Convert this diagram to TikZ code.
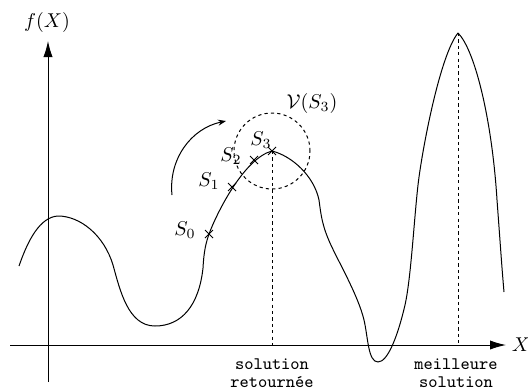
\documentclass[tikz,border=0pt]{standalone}
\usetikzlibrary{arrows.meta}
\begin{document}
\begin{tikzpicture}[x=0.5pt,y=-0.5pt,
  axis/.style={line width=0.5pt,-{Latex[length=8pt,width=4.6pt]}},
  curve/.style={line width=0.5pt,line join=round},
  guide/.style={line width=0.5pt,dash pattern=on 1.6pt off 1.6pt},
  xmark/.style={line width=0.5pt},
  lab/.style={inner sep=0pt},
  ttlab/.style={inner sep=0pt,anchor=base,font=\ttfamily\fontsize{8.8}{9}\selectfont}]
\useasboundingbox (0,0) rectangle (528,391);
% axes
\coordinate (xa0) at (10,345);
\coordinate (xa1) at (506,345);
\coordinate (ya0) at (48,382);
\coordinate (ya1) at (48,41);
\draw[axis] (xa0) -- (xa1);
\draw[axis] (ya0) -- (ya1);
\node[lab] (fx) at (47,22) {$f(X)$};
\node[lab] (xl) at (521,345) {$X$};
% points
\coordinate (s0) at (209,234);
\coordinate (s1) at (232,187);
\coordinate (s2) at (254,160);
\coordinate (s3) at (272,151);
\coordinate (best) at (458,33);
\coordinate (s3x) at (272,345);
\coordinate (bestx) at (458,345);
% curve
\draw[curve] (19,266) .. controls (28,240) and (40,217) .. (58,216)
  .. controls (80,216) and (104,235) .. (113,265)
  .. controls (120,290) and (128,326) .. (155,326)
  .. controls (182,326) and (199,305) .. (203,268)
  .. controls (204,250) and (206,243) .. (s0)
  .. controls (218,210) and (245,158) .. (s3)
  .. controls (292,156) and (314,176) .. (319,200)
  .. controls (321,215) and (322,225) .. (330,243)
  .. controls (338,261) and (358,295) .. (364,320)
  .. controls (368,337) and (368,362) .. (378,362)
  .. controls (388,362) and (398,335) .. (405,305)
  .. controls (411,278) and (414,220) .. (418,185)
  .. controls (422,150) and (440,55) .. (best)
  .. controls (475,50) and (492,120) .. (497,200)
  .. controls (500,240) and (502,270) .. (504,292);
% crosses
\foreach \p in {s0,s1,s2,s3}{
  \draw[xmark] (\p) +(-4,-4) -- +(4,4);
  \draw[xmark] (\p) +(-4,4) -- +(4,-4);
}
\node[lab] (l0) at (185,230) {$S_0$};
\node[lab] (l1) at (209,181) {$S_1$};
\node[lab] (l2) at (231,156) {$S_2$};
\node[lab] (l3) at (261,140) {$S_3$};
% neighbourhood
\draw[guide] (s3) circle[radius=19pt];
\node[lab] (v) at (312,103) {$\mathcal{V}(S_3)$};
% guides
\draw[guide] (s3) -- (s3x);
\draw[guide] (best) -- (bestx);
% arc arrow
\coordinate (a0) at (172,195);
\coordinate (a1) at (226,121);
\draw[line width=0.5pt,-{Stealth[length=4pt,width=3pt]}] (a0) to[bend left=42] (a1);
% labels
\node[ttlab] (r1) at (272,369) {solution};
\node[ttlab] (r2) at (272,387) {retourn\'ee};
\node[ttlab] (m1) at (456,369) {meilleure};
\node[ttlab] (m2) at (456,387) {solution};
\end{tikzpicture}
\end{document}
